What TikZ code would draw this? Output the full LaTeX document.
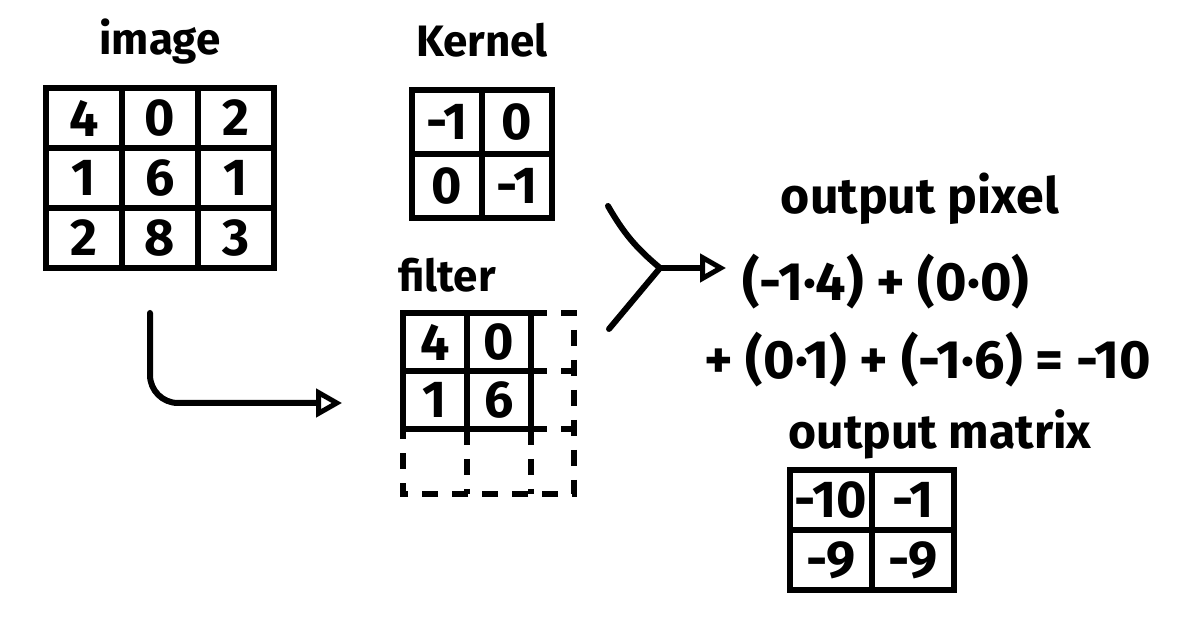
\documentclass[tikz,border=0pt]{standalone}
\usepackage{fontspec}
\setmainfont{Fira Sans}
\usetikzlibrary{arrows.meta,positioning,matrix,calc}
\tikzset{
  grid/.style={matrix of nodes, inner sep=0pt, outer sep=0pt, column sep=-3pt, row sep=-3pt,
    nodes={draw, line width=3pt, inner sep=0pt, anchor=center, font=\fontsize{26}{30}\selectfont\bfseries}},
  lbl/.style={font=\fontsize{22}{26}\selectfont\bfseries, inner sep=1pt, text height=1.5ex, text depth=.4ex},
  eq/.style={font=\fontsize{27}{32}\selectfont\bfseries, inner sep=2pt},
  lin/.style={line width=3pt, line cap=round},
  dashline/.style={line width=3pt, dash pattern=on 8pt off 7pt},
  arr/.style={-{Triangle[open, length=13pt, width=14pt, line width=2.5pt]}, line width=3pt, line cap=round}
}
\begin{document}
\begin{tikzpicture}[x=0.5pt, y=-0.5pt, node distance=12pt]
\useasboundingbox[fill=white] (0,0) rectangle (1180,641);
\matrix[grid, nodes={minimum width=38pt, minimum height=30pt}] (img) at (160,178) {
  4 & 0 & 2 \\
  1 & 6 & 1 \\
  2 & 8 & 3 \\
};
\matrix[grid, nodes={minimum width=35pt, minimum height=32pt}] (ker) at (482,154) {
  -1 & 0 \\
  0 & -1 \\
};
\matrix[grid, nodes={minimum width=32pt, minimum height=29pt}] (flt) at (467,371) {
  4 & 0 \\
  1 & 6 \\
};
\matrix[grid, nodes={minimum width=41pt, minimum height=30pt}] (out) at (872,530) {
  -10 & -1 \\
  -9 & -9 \\
};
\node[lbl, above=of img] (imgl) {image};
\node[lbl, above=of ker] (kerl) {Kernel};
\node[lbl, above=6pt of flt, xshift=-10pt] (fltl) {filter};
\node[lbl, above=6pt of out, xshift=34pt, font=\fontsize{24}{28}\selectfont\bfseries] (outl) {output matrix};
\node[lbl, font=\fontsize{25}{30}\selectfont\bfseries] (pixl) at (920,208) {output pixel};
\node[eq, anchor=west] (eq1) at (738,282) {(-1·4) + (0·0)};
\node[eq, anchor=west] (eq2) at (700,360) {+ (0·1) + (-1·6) = -10};
\draw[dashline] (flt-1-2.north east) -- ++(43,0) |- ($(flt-2-1.south west)+(0,65)$) -- (flt-2-1.south west);
\draw[dashline] (flt-1-2.south east) -- ++(43,0);
\draw[dashline] (flt-2-2.south east) -- ++(43,0);
\draw[dashline] (flt-2-1.south east) -- ++(0,65);
\draw[dashline] (flt-2-2.south east) -- ++(0,65);
\draw[arr, rounded corners=14pt] ($(img.south)+(-10,42)$) |- ($(flt.west)+(-58,32)$);
\coordinate (kt) at ($(ker.east)+(53,52)$);
\coordinate (ft) at ($(flt.east)+(75,-42)$);
\coordinate (jn) at (660,268);
\draw[lin] (kt) to[bend right=10] (jn);
\draw[lin] (ft) -- (jn);
\draw[arr, shorten >=6pt] (jn) -- (jn -| eq1.west);
\end{tikzpicture}
\end{document}
